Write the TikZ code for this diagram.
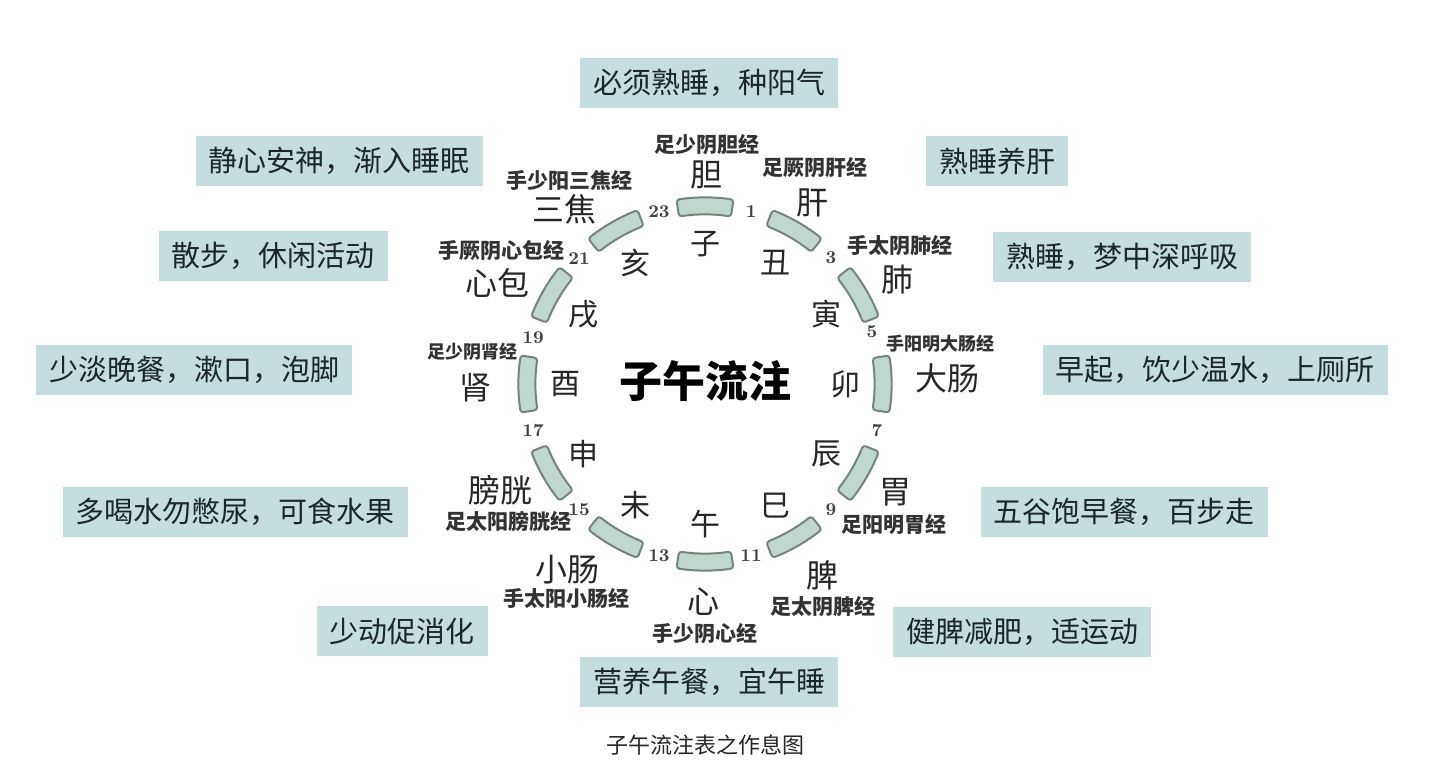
\documentclass[tikz,border=0pt]{standalone}
\usepackage{fontspec}
\newfontfamily\cjk{Noto Sans CJK SC}
\definecolor{boxfill}{RGB}{197,221,223}
\definecolor{boxtext}{RGB}{28,38,44}
\definecolor{segfill}{RGB}{192,215,206}
\definecolor{segline}{RGB}{118,132,128}
\tikzset{
  tip/.style={fill=boxfill, text=boxtext, font=\cjk\fontsize{14.5}{16}\selectfont,
    inner xsep=6.5pt, inner ysep=0pt, minimum height=25pt},
  organ/.style={font=\cjk\fontsize{16}{18}\selectfont, text=black!85},
  branch/.style={font=\cjk\fontsize{15}{17}\selectfont, text=black!85},
  meridian/.style={font=\cjk\bfseries\fontsize{10.5}{12}\selectfont, text=black!80},
  hour/.style={font=\bfseries\fontsize{9}{10}\selectfont, text=black!75},
  seg/.style={fill=segfill, draw=segline, line width=1pt, rounded corners=1.5pt},
}
\begin{document}
\begin{tikzpicture}[x=0.5pt, y=-0.5pt]
  \fill[white] (0,0) rectangle (1430,764);
  \useasboundingbox (0,0) rectangle (1430,764);

  % advice boxes
  \node[tip] (t23) at (709,83)   {必须熟睡，种阳气};
  \node[tip] (t21) at (339,161)  {静心安神，渐入睡眠};
  \node[tip] (t1)  at (997,161)  {熟睡养肝};
  \node[tip] (t19) at (273,256)  {散步，休闲活动};
  \node[tip] (t3)  at (1122,257) {熟睡，梦中深呼吸};
  \node[tip] (t17) at (194,370)  {少淡晚餐，漱口，泡脚};
  \node[tip] (t5)  at (1215,370) {早起，饮少温水，上厕所};
  \node[tip] (t15) at (235,512)  {多喝水勿憋尿，可食水果};
  \node[tip] (t7)  at (1124,512) {五谷饱早餐，百步走};
  \node[tip] (t13) at (402,631)  {少动促消化};
  \node[tip] (t9)  at (1022,632) {健脾减肥，适运动};
  \node[tip] (t11) at (709,682)  {营养午餐，宜午睡};

  % clock face
  \begin{scope}[shift={(705,384)}, y=0.5pt]
    \foreach \b [count=\k from 0] in {子,丑,寅,卯,辰,巳,午,未,申,酉,戌,亥} {
      \pgfmathsetmacro\a{90-30*\k}
      \draw[seg] (\a-8.8:169.5) arc[start angle=\a-8.8, end angle=\a+8.8, radius=169.5]
        -- (\a+8.8:186.5) arc[start angle=\a+8.8, end angle=\a-8.8, radius=186.5] -- cycle;
      \node[branch] (br\k) at (\a:140) {\b};
    }
    \foreach \h in {1,3,7,9,11,13,15,17,19,21,23}
      \node[hour] (h\h) at ({105-15*(\h+1)}:178) {\h};
  \end{scope}
  \node[hour] (h5) at (872,332) {5};
  \node[font=\cjk\bfseries\fontsize{21.5}{24}\selectfont] (title) at (705,381) {子午流注};

  % organs
  \node[organ] (gall)    at (706,175) {胆};
  \node[organ] (liver)   at (812,203) {肝};
  \node[organ] (lung)    at (897,280) {肺};
  \node[organ] (colon)   at (947,378) {大肠};
  \node[organ] (stomach) at (895,492) {胃};
  \node[organ] (spleen)  at (822,575) {脾};
  \node[organ] (heart)   at (703,602) {心};
  \node[organ] (smint)   at (567,570) {小肠};
  \node[organ] (bladder) at (500,490) {膀胱};
  \node[organ] (kidney)  at (475,388) {肾};
  \node[organ] (pcard)   at (497,283) {心包};
  \node[organ] (sanjiao) at (564,209) {三焦};

  % meridians
  \node[meridian] (m0)  at (707,145) {足少阴胆经};
  \node[meridian] (m1)  at (815,168) {足厥阴肝经};
  \node[meridian] (m2)  at (900,246) {手太阴肺经};
  \node[meridian, font=\cjk\bfseries\fontsize{9}{11}\selectfont] (m3) at (940,344) {手阳明大肠经};
  \node[meridian] (m4)  at (894,525) {足阳明胃经};
  \node[meridian] (m5)  at (823,607) {足太阴脾经};
  \node[meridian] (m6)  at (705,634) {手少阴心经};
  \node[meridian] (m7)  at (566,598) {手太阳小肠经};
  \node[meridian] (m8)  at (508,521) {足太阳膀胱经};
  \node[meridian, font=\cjk\bfseries\fontsize{9}{11}\selectfont] (m9) at (472,352) {足少阴肾经};
  \node[meridian] (m10) at (501,251) {手厥阴心包经};
  \node[meridian] (m11) at (569,180) {手少阳三焦经};

  \node[font=\cjk\fontsize{11}{12}\selectfont, text=black!85] (caption) at (705,745) {子午流注表之作息图};
\end{tikzpicture}
\end{document}
